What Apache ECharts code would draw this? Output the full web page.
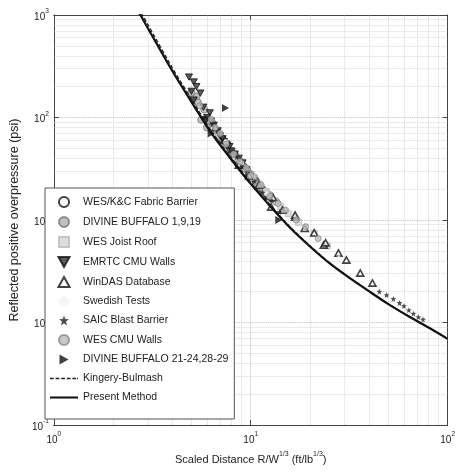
<!DOCTYPE html>
<html><head><meta charset="utf-8">
<script src="https://cdn.jsdelivr.net/npm/echarts@6/dist/echarts.min.js"></script>
<style>html,body{margin:0;padding:0;background:#fff}#c{width:458px;height:474px}</style>
</head><body><div id="c"></div>
<script>
// ---- data ----
const curveZ    = [2.6, 3.0, 4.0, 5.0, 6.3, 8.0, 10, 12.6, 15.8, 20, 25, 31.6, 40, 50, 63, 80, 100];
const presentP  = [1216, 748, 284, 142, 70.8, 38.5, 22.5, 13.55, 8.45, 5.52, 3.82, 2.74, 2.01, 1.51, 1.156, 0.893, 0.693];
const kingeryP  = [1330, 810, 305, 151, 74, 40, 23.2, 13.9, 8.6, 5.6, 3.86, 2.76, 2.02, 1.52, 1.16, 0.895, 0.693];

const wesKC      = [[7.9,46],[8.6,38],[9.2,33],[9.8,28],[10.6,24],[11.4,20],[12.3,17],[8.3,43],[10.2,26],[7.0,62],[7.6,55],[11.0,22],[12.0,18]];
const divine1    = [[5.3,160],[5.8,120],[6.2,92],[6.7,75],[7.2,62],[7.6,52],[8.1,45],[8.8,38],[9.6,31],[10.4,26],[11.8,19],[5.6,95],[6.0,80],
                    [5.0,175],[5.4,140],[6.4,88],[6.9,68],[7.4,57],[7.9,48],[8.4,41],[9.0,35],[9.3,32],[10.0,28],[10.8,23],[11.2,21],[12.5,17.5],[13.5,15]];
const wesJoist   = [[6.9,66],[8.4,40],[9.4,32],[11.0,22],[13.2,15.5],[15.5,11.5],[17.5,9.5],[21,7.4],[24.5,5.6],[7.7,50],[10.2,26],[12.0,19],[14.2,13.5]];
const emrtc      = [[4.86,248],[5.14,222],[5.55,173],[5.14,148],[5.75,126],[6.2,111],[5.95,95],[6.5,84],[6.8,74],[7.0,66],[7.3,58],[7.6,52],[8.0,47],[8.7,40],[9.5,31],
                    [5.3,200],[5.0,180],[6.0,100],[6.3,92],[7.2,62],[7.8,52],[8.3,44],[9.1,36]];
const windas     = [[6.6,80],[7.4,60],[8.7,34.4],[11.0,21.9],[12.7,13.4],[13.0,16.5],[16.8,10.7],[18.8,8.3],[21,7.5],[23.5,5.7],[24,6.0],[27.9,4.76],[30.6,4.07],[36,3.04],[41.5,2.43],[9.8,27],[14.5,12.5],[16.8,11.2]];
const swedish    = [[7.5,58],[9,36],[12,18],[20,6.5],[28,4.2],[45,2.1]];
const saic       = [[5.9,100],[6.4,86],[7.8,47],[9.0,33],[11.5,18.5],[14.0,12.0],[6.9,70],[8.5,41],[10.5,24],[12.8,15.5],
                    [45,2.0],[49,1.85],[53,1.7],[57,1.55],[60,1.45],[63.5,1.32],[67,1.22],[71,1.13],[75,1.07]];
const wesCMU     = [[6.3,96],[7.0,70],[8.2,44],[10,27],[12.5,17],[15,12.5],[19,8.6],[22,6.6],[5.5,130],[6.6,80],[7.5,55],[8.8,37],[9.5,32],[11.3,22],[13.8,14.5],[17,10]];
const divine2    = [[7.45,124],[13.9,10],[6.3,70]];

const xMinorGrid = [2,3,4,5,6,7,8,9,20,30,40,50,60,70,80,90];
const yMinorGrid = [0.2,0.3,0.4,0.5,0.6,0.7,0.8,0.9,2,3,4,5,6,7,8,9,20,30,40,50,60,70,80,90,200,300,400,500,600,700,800,900];

// ---- chart ----
const FONT = 'Liberation Sans';
const chart = echarts.init(document.getElementById('c'), null, {renderer:'canvas'});
const supFmt = v => '{b|10}{s|' + Math.round(Math.log10(v)) + '}';
const richLbl = {b:{fontSize:10, fontFamily:FONT, color:'#222', lineHeight:14, verticalAlign:'bottom'},
                 s:{fontSize:6.5, fontFamily:FONT, color:'#222', verticalAlign:'top'}};
const gridLine = {show:true, lineStyle:{color:'#b8b8b8', type:'dotted', width:0.9}};

function sc(name, data, symbol, size, style) {
  return {name, type:'scatter', data, symbol, symbolSize:size, symbolKeepAspect:true, itemStyle:style, z:3};
}
const downTri = 'path://M0,0 L10,0 L5,9 Z';
const upTri = 'path://M5,0 L10,9 L0,9 Z';
const square = 'path://M0,0 L10,0 L10,10 L0,10 Z';
const rightTri = 'path://M0,0 L9,5 L0,10 Z';
const star = 'path://M5,0 L6.2,3.5 L10,3.8 L7,6.1 L8.1,10 L5,7.8 L1.9,10 L3,6.1 L0,3.8 L3.8,3.5 Z';
const solidIcon = 'path://M0,0 L30,0 L30,2.2 L0,2.2 Z';
const dashIcon = 'path://M0,0h4v1.4h-4z M6,0h4v1.4h-4z M12,0h4v1.4h-4z M18,0h4v1.4h-4z M24,0h4v1.4h-4z M29,0h1v1.4h-1z';

const mlData = xMinorGrid.map(v => ({xAxis:v})).concat(yMinorGrid.map(v => ({yAxis:v})));

chart.setOption({
  animation:false,
  backgroundColor:'#fff',
  grid:{left:45, right:4, top:15, bottom:49},
  xAxis:[{
    type:'log', logBase:10, min:1, max:100,
    axisLine:{show:true, lineStyle:{color:'#444', width:1}},
    axisTick:{inside:true, length:5, lineStyle:{color:'#444'}},
    axisLabel:{formatter:supFmt, rich:richLbl, margin:6},
    splitLine:gridLine,
    name:'{n|Scaled Distance R/W}{s|1/3}{n| (ft/lb}{s|1/3}{n|)}',
    nameLocation:'middle', nameGap:26,
    nameTextStyle:{rich:{n:{fontSize:11, fontFamily:FONT, color:'#222', lineHeight:14, verticalAlign:'bottom'},
                         s:{fontSize:7, fontFamily:FONT, color:'#222', verticalAlign:'top'}}}
  },{
    type:'log', logBase:10, min:1, max:100, position:'top',
    axisLine:{show:true, lineStyle:{color:'#444', width:1}},
    axisTick:{inside:true, length:5, lineStyle:{color:'#444'}},
    axisLabel:{show:false}, splitLine:{show:false}
  }],
  yAxis:[{
    type:'log', logBase:10, min:0.1, max:1000,
    axisLine:{show:true, lineStyle:{color:'#444', width:1}},
    axisTick:{inside:true, length:5, lineStyle:{color:'#444'}},
    axisLabel:{formatter:supFmt, rich:richLbl, margin:5},
    splitLine:gridLine,
    name:'Reflected positive overpressure (psi)',
    nameLocation:'middle', nameGap:30, nameRotate:90,
    nameTextStyle:{fontSize:12.5, fontFamily:FONT, color:'#222'}
  },{
    type:'log', logBase:10, min:0.1, max:1000, position:'right',
    axisLine:{show:true, lineStyle:{color:'#444', width:1}},
    axisTick:{inside:true, length:5, lineStyle:{color:'#444'}},
    axisLabel:{show:false}, splitLine:{show:false}
  }],
  legend:{
    orient:'vertical', left:45, top:188,
    backgroundColor:'#fff', borderColor:'#555', borderWidth:1, borderRadius:0,
    padding:[8,6,16,5], itemWidth:28, itemHeight:10, itemGap:8,
    textStyle:{fontSize:10.5, fontFamily:FONT, color:'#222'},
    symbolKeepAspect:true,
    data:['WES/K&C Fabric Barrier','DIVINE BUFFALO 1,9,19','WES Joist Roof','EMRTC CMU Walls','WinDAS Database',
          'Swedish Tests','SAIC Blast Barrier','WES CMU Walls','DIVINE BUFFALO 21-24,28-29',
          {name:'Kingery-Bulmash', icon:dashIcon, itemStyle:{color:'#222'}},
          {name:'Present Method', icon:solidIcon, itemStyle:{color:'#111'}}]
  },
  series:[
    sc('WES/K&C Fabric Barrier', wesKC, 'circle', 6, {color:'#fff', borderColor:'#111', borderWidth:2}),
    sc('DIVINE BUFFALO 1,9,19', divine1, 'circle', 7, {color:'#b0b0b0', borderColor:'#777', borderWidth:1}),
    sc('WES Joist Roof', wesJoist, square, 6, {color:'#d6d6d6', borderColor:'#bbb', borderWidth:1}),
    sc('EMRTC CMU Walls', emrtc, downTri, 7, {color:'#333', borderColor:'#111', borderWidth:1}),
    sc('WinDAS Database', windas, upTri, 7, {color:'#fff', borderColor:'#111', borderWidth:1.6}),
    sc('Swedish Tests', swedish, 'circle', 5, {color:'#f3f3f3'}),
    sc('SAIC Blast Barrier', saic, star, 6, {color:'#222'}),
    sc('WES CMU Walls', wesCMU, 'circle', 6, {color:'#bbb', borderColor:'#888', borderWidth:1}),
    sc('DIVINE BUFFALO 21-24,28-29', divine2, rightTri, 8, {color:'#111'}),
    {name:'Kingery-Bulmash', type:'line', data:curveZ.map((z,i)=>[z,kingeryP[i]]), smooth:0.25,
     symbol:'none', lineStyle:{color:'#222', width:1.3, type:[4,2]}, itemStyle:{color:'#222'}, z:4},
    {name:'Present Method', type:'line', data:curveZ.map((z,i)=>[z,presentP[i]]), smooth:0.25,
     symbol:'none', lineStyle:{color:'#111', width:2.2}, itemStyle:{color:'#111'}, z:5,
     markLine:{silent:true, symbol:'none', label:{show:false}, animation:false,
               lineStyle:{color:'#cdcdcd', type:'dotted', width:0.8}, data:mlData, z:1}}
  ]
});
</script></body></html>
